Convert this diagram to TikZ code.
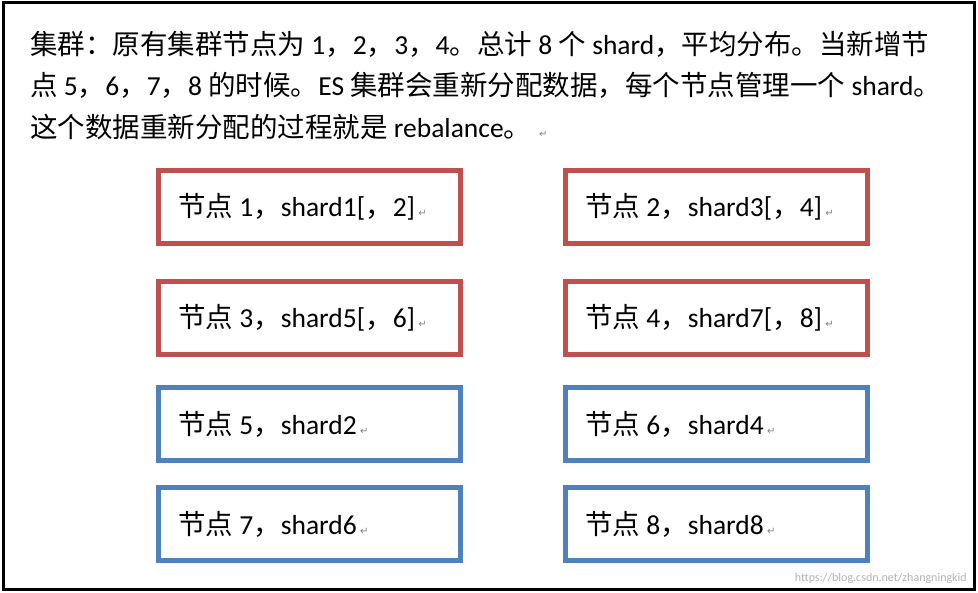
\documentclass[tikz,border=0pt]{standalone}
\usepackage{fontspec}
\setmainfont{Carlito}
\newfontfamily\cjk{Noto Sans CJK SC}
\newfontfamily\djvfont{DejaVu Sans}
\newcommand{\C}[1]{{\cjk #1}}
\newcommand{\R}{{\djvfont\fontsize{10}{10}\selectfont\color{gray}\,\,↵}}
\definecolor{bred}{HTML}{C0504D}
\definecolor{bblue}{HTML}{4F81BD}
\begin{document}
\begin{tikzpicture}[x=1pt,y=-1pt,
  txt/.style={anchor=west,inner sep=0pt,font=\fontsize{27.5}{27.5}\selectfont},
  rbox/.style={draw=bred,line width=5pt,minimum width=302pt,minimum height=73pt,anchor=north west},
  bbox/.style={rbox,draw=bblue}]
\useasboundingbox (0,0) rectangle (978,593);
\draw[line width=3pt] (3,3) rectangle (974,589);
\node[txt] (l1) at (30,44) {\C{集群：原有集群节点为} 1\C{，}2\C{，}3\C{，}4\C{。总计} 8 \C{个} shard\C{，平均分布。当新增节}};
\node[txt] (l2) at (30,85) {\C{点} 5\C{，}6\C{，}7\C{，}8 \C{的时候。}ES \C{集群会重新分配数据，每个节点管理一个} shard\C{。}};
\node[txt] (l3) at (30,127) {\C{这个数据重新分配的过程就是} rebalance\C{。}\,\R};
\foreach \n/\x/\y/\s/\t in {a/156/168/rbox/{\C{节点} 1\C{，}shard1[\C{，}2]},
  b/563/168/rbox/{\C{节点} 2\C{，}shard3[\C{，}4]},
  c/156/279/rbox/{\C{节点} 3\C{，}shard5[\C{，}6]},
  d/563/279/rbox/{\C{节点} 4\C{，}shard7[\C{，}8]},
  e/156/385/bbox/{\C{节点} 5\C{，}shard2},
  f/563/385/bbox/{\C{节点} 6\C{，}shard4},
  g/156/485/bbox/{\C{节点} 7\C{，}shard6},
  h/563/485/bbox/{\C{节点} 8\C{，}shard8}}{
  \node[\s] (\n) at (\x,\y) {};
  \node[txt] (\n t) at ([xshift=22pt]\n.west) {\t\R};
}
\node[anchor=south east,inner sep=1pt,text=gray!60,font=\fontsize{12}{12}\selectfont] (wm) at (968,585) {https://blog.csdn.net/zhangningkid};
\end{tikzpicture}
\end{document}
